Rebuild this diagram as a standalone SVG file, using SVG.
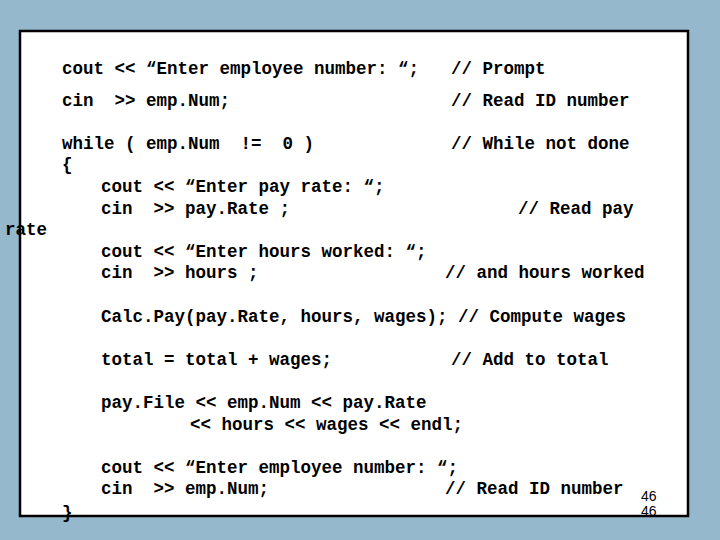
<svg xmlns="http://www.w3.org/2000/svg" width="720" height="540" viewBox="0 0 720 540">
<style>
.c{font-family:"Liberation Mono","Courier New",monospace;font-weight:bold;font-size:17.5px;fill:#000;white-space:pre}
.n{font-family:"Liberation Sans",Arial,sans-serif;font-size:14px;fill:#000}
</style>
<rect width="720" height="540" fill="#95B8CC"/>
<rect id="slide" x="20" y="31" width="668" height="485" fill="#fff" stroke="#000" stroke-width="2.5"/>
<g id="code">
<text class="c" x="62" y="74">cout &lt;&lt; “Enter employee number: “;</text>
<text class="c" x="451" y="74">// Prompt</text>
<text class="c" x="62" y="106">cin  &gt;&gt; emp.Num;</text>
<text class="c" x="451" y="106">// Read ID number</text>
<text class="c" x="62" y="149">while ( emp.Num  !=  0 )</text>
<text class="c" x="451" y="149">// While not done</text>
<text class="c" x="62" y="170">{</text>
<text class="c" x="101" y="192">cout &lt;&lt; “Enter pay rate: “;</text>
<text class="c" x="101" y="214">cin  &gt;&gt; pay.Rate ;</text>
<text class="c" x="518" y="214">// Read pay</text>
<text class="c" x="5" y="235">rate</text>
<text class="c" x="101" y="257">cout &lt;&lt; “Enter hours worked: “;</text>
<text class="c" x="101" y="278">cin  &gt;&gt; hours ;</text>
<text class="c" x="445" y="278">// and hours worked</text>
<text class="c" x="101" y="322">Calc.Pay(pay.Rate, hours, wages); // Compute wages</text>
<text class="c" x="101" y="365">total = total + wages;</text>
<text class="c" x="451" y="365">// Add to total</text>
<text class="c" x="101" y="408">pay.File &lt;&lt; emp.Num &lt;&lt; pay.Rate</text>
<text class="c" x="190" y="430">&lt;&lt; hours &lt;&lt; wages &lt;&lt; endl;</text>
<text class="c" x="101" y="473">cout &lt;&lt; “Enter employee number: “;</text>
<text class="c" x="101" y="494">cin  &gt;&gt; emp.Num;</text>
<text class="c" x="445" y="494">// Read ID number</text>
<text class="c" x="62" y="518">}</text>
</g>
<text class="n" x="641" y="501">46</text>
<text class="n" x="641" y="516">46</text>
</svg>
